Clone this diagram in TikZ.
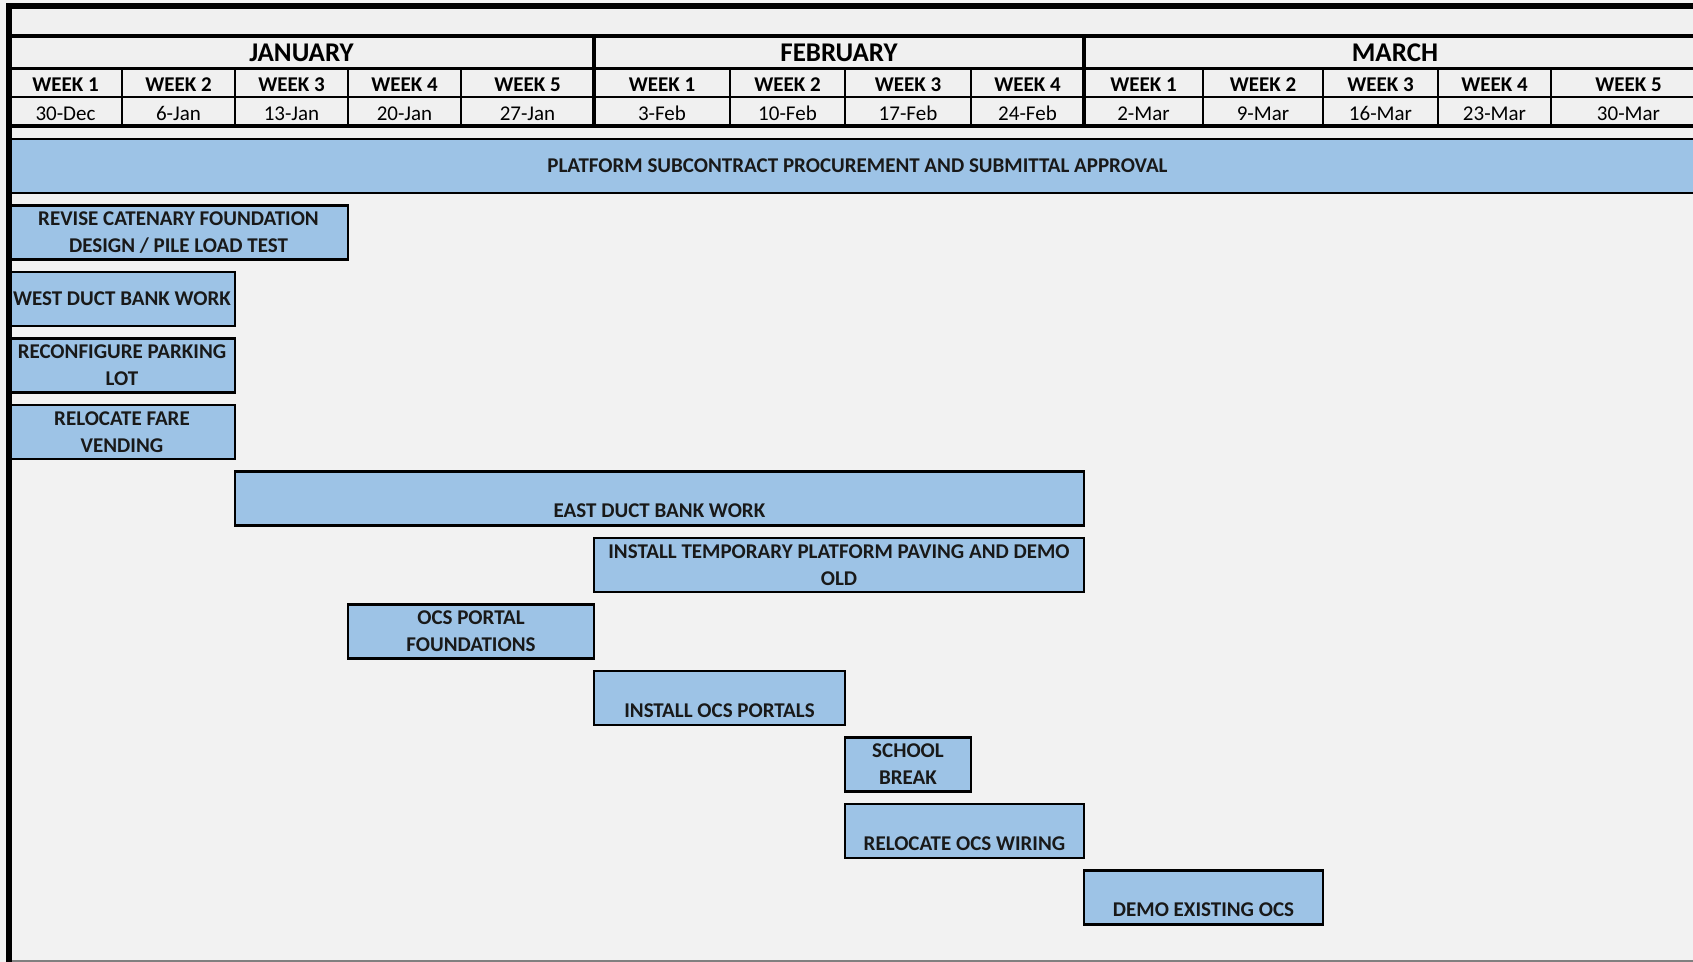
\documentclass[tikz,border=0pt]{standalone}
\usepackage{fontspec}
\setmainfont{Carlito}
\usepackage{xcolor}
\usepackage{tikz}
\usetikzlibrary{positioning,calc}
\definecolor{sheetgray}{HTML}{F2F2F2}
\definecolor{cellgray}{HTML}{F0F0F0}
\definecolor{barblue}{HTML}{9DC3E6}
\tikzset{
  span/.style 2 args={
      minimum width=(#1)*0.5pt,
      minimum height=(#2)*0.5pt
    },
  cell/.style={
      draw,
      line width=1pt,
      fill=cellgray,
      inner sep=0pt,
      outer sep=0pt,
      anchor=north west,
      text height=11.3pt,
      text depth=2.7pt,
      font=\fontsize{10.5}{12}\selectfont\bfseries
    },
  monthcell/.style={
      cell,
      line width=1.6pt,
      text height=12.6pt,
      text depth=3.9pt,
      font=\fontsize{13.5}{16}\selectfont\bfseries
    },
  datecell/.style={
      cell,
      text height=11.8pt,
      text depth=2.7pt,
      font=\fontsize{10.5}{12}\selectfont
    },
  task/.style={
      draw,
      line width=1.4pt,
      fill=barblue,
      inner sep=0pt,
      outer sep=0pt,
      anchor=north west,
      align=center,
      text=black!90,
      font=\fontsize{10.5}{13.5}\selectfont\bfseries
    },
  lowtext/.style={
      text height=23pt,
      text depth=4pt
    }
}

\begin{document}
\begin{tikzpicture}[x=0.5pt,y=-0.5pt]
\useasboundingbox (0,0) rectangle (1693,962);
\clip (0,0) rectangle (1693,962);
\fill[sheetgray] (0,0) rectangle (1693,962);
\fill[cellgray] (9,6) rectangle (1706,36);

% the header
\foreach \xa/\xb/\mon [count=\i] in {9/594/JANUARY, 594/1084/FEBRUARY, 1084/1706/MARCH}
  \node[monthcell, span={\xb-\xa}{33}] (mon-\i) at (\xa,36) {\mon};
\foreach \xa/\xb/\wk/\day [count=\i] in {
    9/122/WEEK 1/30-Dec, 122/235/WEEK 2/6-Jan, 235/348/WEEK 3/13-Jan,
    348/461/WEEK 4/20-Jan, 461/594/WEEK 5/27-Jan,
    594/730/WEEK 1/3-Feb, 730/845/WEEK 2/10-Feb, 845/971/WEEK 3/17-Feb,
    971/1084/WEEK 4/24-Feb,
    1084/1203/WEEK 1/2-Mar, 1203/1323/WEEK 2/9-Mar, 1323/1438/WEEK 3/16-Mar,
    1438/1551/WEEK 4/23-Mar, 1551/1706/WEEK 5/30-Mar}
{
  \node[cell, span={\xb-\xa}{28}] (wk-\i) at (\xa,69) {\wk};
  \node[datecell, span={\xb-\xa}{29}, below=0pt of wk-\i] (dt-\i) {\day};
}
\foreach \first/\last [count=\i] in {1/5, 6/9, 10/14}
  \draw[line width=1.8pt] (mon-\i.north west) rectangle (dt-\last.south east);

% the tasks
\node[task, span={1697}{54}] (platform) at (9,139)
  {PLATFORM SUBCONTRACT PROCUREMENT AND SUBMITTAL APPROVAL};
\node[task, span={339}{54}] (revise) at (9,205.5)
  {REVISE CATENARY FOUNDATION\\DESIGN / PILE LOAD TEST};
\node[task, span={226}{54}] (westduct) at (9,272)
  {WEST DUCT BANK WORK};
\node[task, span={226}{54}] (parking) at (9,338.5)
  {RECONFIGURE PARKING\\LOT};
\node[task, span={226}{54}] (fare) at (9,405)
  {RELOCATE FARE\\VENDING};
\node[task, lowtext, span={849}{54}] (eastduct) at (235,471.5)
  {EAST DUCT BANK WORK};
\node[task, span={490}{54}] (paving) at (594,538)
  {INSTALL TEMPORARY PLATFORM PAVING AND DEMO\\OLD};
\node[task, span={246}{54}] (ocsfound) at (348,604.5)
  {OCS PORTAL\\FOUNDATIONS};
\node[task, lowtext, span={251}{54}] (ocsinstall) at (594,671)
  {INSTALL OCS PORTALS};
\node[task, span={126}{54}] (school) at (845,737.5)
  {SCHOOL\\BREAK};
\node[task, lowtext, span={239}{54}] (wiring) at (845,804)
  {RELOCATE OCS WIRING};
\node[task, lowtext, span={239}{54}] (demo) at (1084,870.5)
  {DEMO EXISTING OCS};

% the frame
\draw[black!50, line width=0.8pt] (9,961) -- (1693,961);
\draw[line width=2.6pt] (9,962) -- (9,6) -- (1700,6);
\end{tikzpicture}
\end{document}
